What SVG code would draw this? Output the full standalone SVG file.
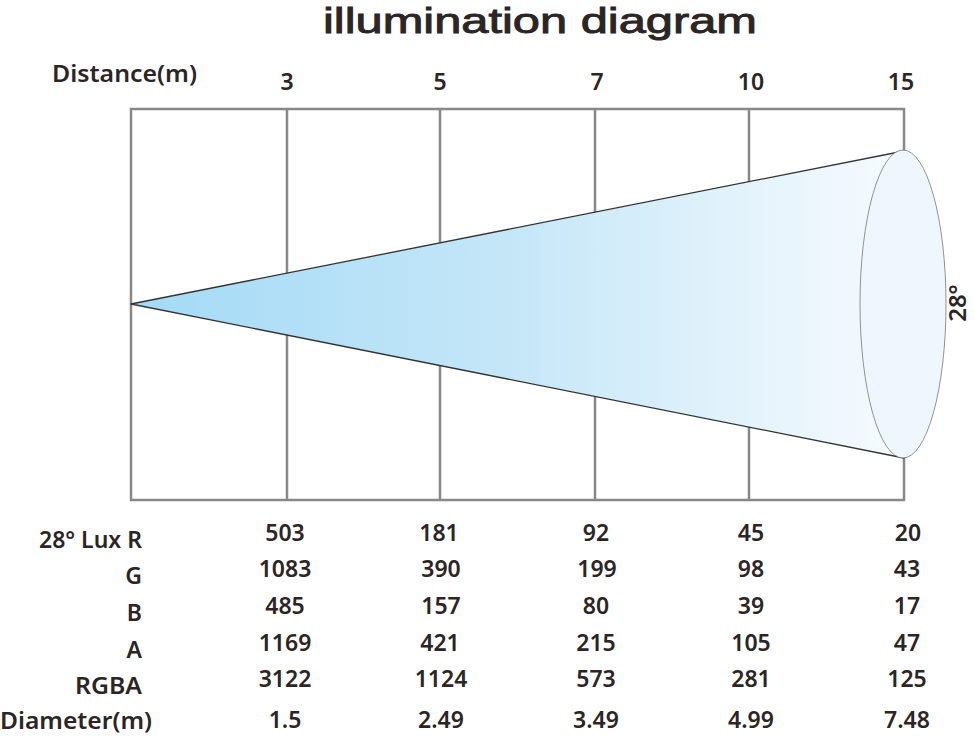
<svg xmlns="http://www.w3.org/2000/svg" width="974" height="736" viewBox="0 0 974 736">
<style>
.t{font-family:"Noto Sans","Open Sans","DejaVu Sans",sans-serif;fill:#2b2526;}
.v{font-size:23px;font-weight:600;text-anchor:middle;}
.l{font-size:23px;font-weight:600;text-anchor:end;}
.grid{stroke:#888;stroke-width:2.5;fill:none;}
</style>
<defs>
<linearGradient id="beam" x1="131" y1="0" x2="904" y2="0" gradientUnits="userSpaceOnUse">
<stop offset="0" stop-color="#a3daf6"/>
<stop offset="0.5" stop-color="#c6e7f8"/>
<stop offset="1" stop-color="#f7fbfe"/>
</linearGradient>
</defs>
<text x="540" y="33" font-family="'Liberation Sans',Arial,sans-serif" fill="#2b2526" stroke="#2b2526" stroke-width="0.9" font-size="35" text-anchor="middle" textLength="434" lengthAdjust="spacingAndGlyphs">illumination diagram</text>
<g id="axis-labels">
<text class="t" x="52" y="82" font-size="23" font-weight="600" textLength="145" lengthAdjust="spacingAndGlyphs">Distance(m)</text>
<text class="t v" x="287" y="90">3</text>
<text class="t v" x="440" y="90">5</text>
<text class="t v" x="597" y="90">7</text>
<text class="t v" x="751" y="90">10</text>
<text class="t v" x="901" y="90">15</text>
</g>
<g id="grid">
<rect class="grid" x="131" y="109" width="773" height="391" stroke-width="3"/>
<line class="grid" x1="287" y1="109" x2="287" y2="500"/>
<line class="grid" x1="440" y1="109" x2="440" y2="500"/>
<line class="grid" x1="595" y1="109" x2="595" y2="500"/>
<line class="grid" x1="749" y1="109" x2="749" y2="500"/>
</g>
<g id="beam-cone">
<polygon points="131,304 904,151 904,458" fill="url(#beam)" stroke="#333" stroke-width="1.3" stroke-linejoin="round"/>
<ellipse cx="903" cy="304" rx="43" ry="154" fill="#eff6fd" stroke="#777" stroke-width="0.8"/>
</g>
<text class="t" transform="translate(966,303) rotate(-90)" font-size="24" font-weight="600" text-anchor="middle">28°</text>
<g id="table">
<text class="t l" x="142" y="548">28° Lux R</text>
<text class="t l" x="142" y="584">G</text>
<text class="t l" x="142" y="621">B</text>
<text class="t l" x="142" y="658">A</text>
<text class="t l" x="142" y="694" textLength="67" lengthAdjust="spacingAndGlyphs">RGBA</text>
<text class="t l" x="152" y="729" textLength="152" lengthAdjust="spacingAndGlyphs">Diameter(m)</text>
<text class="t v" x="285" y="541">503</text>
<text class="t v" x="439" y="541">181</text>
<text class="t v" x="596" y="541">92</text>
<text class="t v" x="751" y="541">45</text>
<text class="t v" x="908" y="541">20</text>
<text class="t v" x="285" y="577">1083</text>
<text class="t v" x="441" y="577">390</text>
<text class="t v" x="597" y="577">199</text>
<text class="t v" x="751" y="577">98</text>
<text class="t v" x="907" y="577">43</text>
<text class="t v" x="285" y="614">485</text>
<text class="t v" x="441" y="614">157</text>
<text class="t v" x="596" y="614">80</text>
<text class="t v" x="751" y="614">39</text>
<text class="t v" x="907" y="614">17</text>
<text class="t v" x="285" y="651">1169</text>
<text class="t v" x="440" y="651">421</text>
<text class="t v" x="596" y="651">215</text>
<text class="t v" x="751" y="651">105</text>
<text class="t v" x="907" y="651">47</text>
<text class="t v" x="285" y="687">3122</text>
<text class="t v" x="441" y="687">1124</text>
<text class="t v" x="596" y="687">573</text>
<text class="t v" x="751" y="687">281</text>
<text class="t v" x="907" y="687">125</text>
<text class="t v" x="285" y="728">1.5</text>
<text class="t v" x="441" y="728">2.49</text>
<text class="t v" x="596" y="728">3.49</text>
<text class="t v" x="751" y="728">4.99</text>
<text class="t v" x="907" y="728">7.48</text>
</g>
</svg>
